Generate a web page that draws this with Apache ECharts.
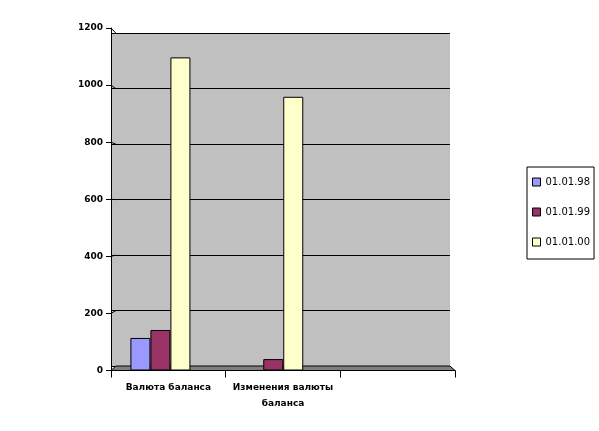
<!DOCTYPE html>
<html>
<head>
<meta charset="utf-8">
<script src="https://cdn.jsdelivr.net/npm/echarts@6/dist/echarts.min.js"></script>
<style>
  html, body { margin: 0; padding: 0; background: #fff; }
  #chart { width: 599px; height: 431px; }
</style>
</head>
<body>
<div id="chart"></div>
<script>
// data
var categories = ["Валюта баланса", "Изменения валюты баланса", ""];
var seriesNames = ["01.01.98", "01.01.99", "01.01.00"];
var s98 = [114, null, null];
var s99 = [142, 40, null];
var s00 = [1097, 959, null];
var yTicks = [0, 200, 400, 600, 800, 1000, 1200];

var colors = ["#9999ff", "#993366", "#ffffcc"];

// layout: front plane (axes), back wall, bar plane
var front = { left: 111, right: 144, top: 28, bottom: 60.5 };
var wall = { left: 111, right: 149, top: 33.3, bottom: 65 };
var barPlane = { left: 104, right: 156.5, top: 28, bottom: 60.5 };

var axisFont = { fontFamily: "DejaVu Sans", fontSize: 9, fontWeight: "bold", color: "#000" };

var myChart = echarts.init(document.getElementById("chart"));

function makeBar(name, data, i) {
  return {
    name: name,
    type: "bar",
    xAxisIndex: 2,
    yAxisIndex: 2,
    barWidth: 20,
    barGap: "0%",
    data: data,
    z: 2,
    itemStyle: {
      color: colors[i],
      borderColor: "#000",
      borderWidth: 1,
    },
  };
}

// long category names wrap at the last space, like the original
function wrapLabel(value) {
  if (value.length > 18) {
    var k = value.lastIndexOf(" ");
    return value.substr(0, k) + "\n" + value.substr(k + 1);
  }
  return value;
}

var option = {
  animation: false,
  backgroundColor: "#fff",
  legend: {
    data: seriesNames,
    orient: "vertical",
    left: 527,
    top: 167,
    padding: [10, 4, 12, 5],
    itemGap: 20,
    itemWidth: 8,
    itemHeight: 8,
    icon: "rect",
    borderColor: "#000",
    borderWidth: 1,
    itemStyle: { borderColor: "#000", borderWidth: 1 },
    textStyle: { fontFamily: "DejaVu Sans", fontSize: 10, color: "#000" },
  },
  grid: [
    Object.assign({ show: true, backgroundColor: "#c0c0c0", borderWidth: 0, z: 0 }, wall),
    Object.assign({ show: false }, front),
    Object.assign({ show: false }, barPlane),
  ],
  xAxis: [
    { gridIndex: 0, type: "category", data: categories, show: false },
    {
      gridIndex: 1,
      type: "category",
      data: categories,
      z: 5,
      axisLine: { show: true, lineStyle: { color: "#000", width: 1 } },
      axisTick: { show: true, length: 7, lineStyle: { color: "#000" } },
      axisLabel: Object.assign({ margin: 9, lineHeight: 16, interval: 0, formatter: wrapLabel }, axisFont),
      splitLine: { show: false },
    },
    { gridIndex: 2, type: "category", data: categories, show: false },
  ],
  yAxis: [
    {
      gridIndex: 0,
      type: "value",
      min: 0,
      max: 1200,
      interval: 200,
      axisLine: { show: false },
      axisTick: { show: false },
      axisLabel: { show: false },
      splitLine: { show: true, lineStyle: { color: "#000", width: 1 } },
    },
    {
      gridIndex: 1,
      type: "value",
      min: 0,
      max: 1200,
      interval: 200,
      z: 5,
      axisLine: { show: true, lineStyle: { color: "#000", width: 1 } },
      axisTick: { show: true, length: 5, lineStyle: { color: "#000" } },
      axisLabel: Object.assign({ margin: 8, formatter: function (v) { return "" + v; } }, axisFont),
      splitLine: { show: false },
    },
    { gridIndex: 2, type: "value", min: 0, max: 1200, show: false, splitLine: { show: false } },
  ],
  series: [makeBar(seriesNames[0], s98, 0), makeBar(seriesNames[1], s99, 1), makeBar(seriesNames[2], s00, 2)],
};

myChart.setOption(option);

// 3D floor and the short slanted links between the front axis and the back wall
var W = 599;
var fx0 = front.left, fx1 = W - front.right;
var bx0 = 116, bx1 = W - wall.right;
var fy0 = myChart.convertToPixel({ yAxisIndex: 1 }, 0);
var by0 = myChart.convertToPixel({ yAxisIndex: 0 }, 0);
var graphics = [
  {
    type: "polygon",
    z: 1,
    shape: { points: [[fx0, fy0], [fx1, fy0], [bx1, by0], [bx0, by0]] },
    style: { fill: "#808080", stroke: "#000", lineWidth: 1 },
  },
];
yTicks.forEach(function (v) {
  if (v === 0) return;
  var fy = myChart.convertToPixel({ yAxisIndex: 1 }, v);
  var by = myChart.convertToPixel({ yAxisIndex: 0 }, v);
  graphics.push({
    type: "polyline",
    z: 1,
    shape: { points: [[fx0, fy], [bx0, by]] },
    style: { stroke: "#000", lineWidth: 1, fill: null },
  });
});
myChart.setOption({ graphic: graphics });
</script>
</body>
</html>
